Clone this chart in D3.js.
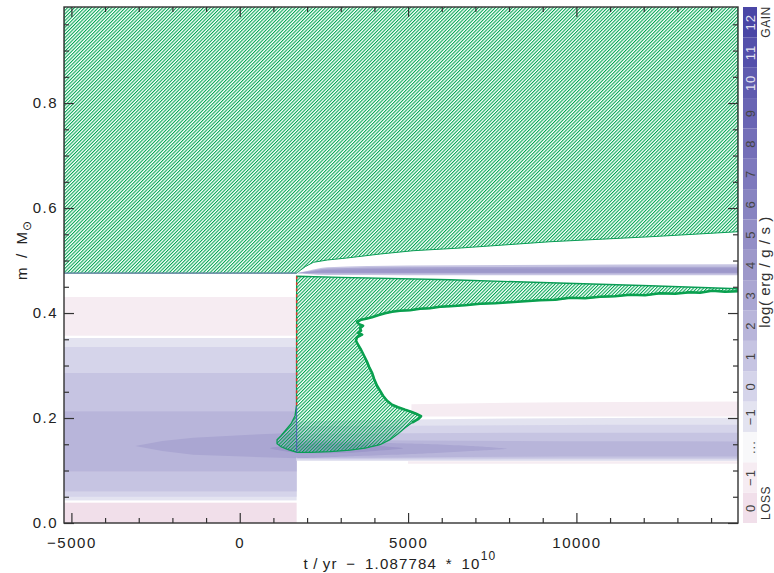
<!DOCTYPE html>
<html><head><meta charset="utf-8">
<script src="https://cdn.jsdelivr.net/npm/d3@7"></script>
<style>body{margin:0;background:#fff}svg{display:block}text{font-family:"Liberation Sans",Arial,Helvetica,sans-serif}</style>
</head><body><svg id="c" width="774" height="573"></svg>
<script>
// ---------------- data ----------------
const tRange = [-5220, 14800];
const mRange = [0, 0.983];
const tFlash = 1690;
const xMajor = [-5000, 0, 5000, 10000];
const yMajor = [0.0, 0.2, 0.4, 0.6, 0.8];

// envelope convection zone lower boundary [t, m]
const envBase = [[-5220,0.476],[1690,0.476],[1720,0.4775],[1800,0.4815],[1950,0.4885],[2186,0.4966],[2600,0.5010],[3178,0.5048],[4167,0.5124],[5148,0.5187],[6544,0.5238],[9217,0.5358],[12187,0.5453],[14800,0.5549]];

// helium-flash convection zone: upper boundary (left->right)
const flashTop = [[1690,0.4701],[3000,0.4680],[6247,0.4634],[9217,0.4577],[12187,0.4520],[14800,0.4463]];
// lower (jagged) boundary, right->left, around the tip and the flare, up the left edge
const flashBottom = [[14800,0.4415],[14415,0.4406],[14029,0.4425],[13672,0.4387],[13375,0.4396],[12930,0.4368],[12484,0.4377],[12039,0.4339],[11593,0.4349],[11148,0.4320],[10702,0.4310],[10257,0.4282],[9811,0.4291],[9365,0.4253],[8920,0.4244],[8474,0.4225],[8029,0.4206],[7583,0.4187],[7138,0.4177],[6692,0.4149],[6247,0.4130],[5950,0.4120],[5652,0.4091],[5356,0.4082],[5058,0.4053],[4761,0.4044],[4524,0.4025],[4316,0.3996],[4108,0.3958],[3930,0.3920],[3752,0.3891],[3603,0.3872],[3484,0.3834],[3544,0.3787],[3662,0.3758],[3573,0.3710],[3603,0.3663],[3514,0.3625],[3633,0.3587],[3484,0.3539],[3454,0.3472],[3514,0.3396],[3603,0.3301],[3692,0.3187],[3781,0.3072],[3841,0.2977],[3930,0.2863],[3989,0.2749],[4078,0.2615],[4167,0.2520],[4256,0.2425],[4375,0.2330],[4524,0.2253],[4702,0.2206],[4910,0.2158],[5088,0.2120],[5237,0.2082],[5385,0.2034],[5296,0.1977],[5118,0.1910],[4910,0.1815],[4702,0.1701],[4464,0.1587],[4167,0.1491],[3722,0.1425],[3276,0.1387],[2682,0.1358],[2088,0.1345],[1702,0.1345],[1435,0.1396],[1227,0.1453],[1108,0.1510],[1108,0.1587],[1227,0.1663],[1375,0.1777],[1524,0.1891],[1643,0.2044],[1687,0.2253],[1690,0.4701]];
const jaggedCount = 60; // points of flashBottom drawn with the thick line

// energy contours before the flash: level keys, lower / upper mass
const preKeys = ["L0","L1","G-1","G0","G1","G2"];
const preLo   = [0.000, 0.3568, 0.043, 0.050, 0.0602, 0.0983];
const preHi   = [0.0387, 0.4306, 0.3524, 0.3352, 0.2857, 0.2126];
// gain-3 lens before the flash (closed polygon)
const preLens3 = [[-3107,0.1467],[-2300,0.1560],[-1384,0.1625],[309,0.1682],[1690,0.1720],[1690,0.1233],[309,0.1262],[-1384,0.1300],[-2300,0.1370],[-3107,0.1467]];

// energy contours after the flash, sampled at tPost
const tPost = [1690, 2500, 5000, 8000, 11000, 14800];
const postKeys = ["G-1","G0","G1","G2"];
const postLo = [[0.118,0.118,0.118,0.118,0.118,0.118],[0.1205,0.1205,0.1205,0.121,0.121,0.121],[0.1225,0.1225,0.123,0.123,0.123,0.123],[0.1244,0.1245,0.125,0.126,0.1265,0.1269]];
const postHi = [[0.1935,0.1945,0.197,0.199,0.200,0.2006],[0.184,0.185,0.1855,0.186,0.187,0.1872],[0.170,0.170,0.171,0.172,0.172,0.172],[0.159,0.158,0.157,0.156,0.1555,0.1554]];
// thin loss bands after the flash
const lossT = [5100, 8000, 14800];
const lossHiA = [0.226, 0.229, 0.2316], lossLoA = [0.203, 0.203, 0.203];
const lossT2 = [5000, 14800];
const lossHiB = [0.1178, 0.1178], lossLoB = [0.113, 0.113];
// gain-3 lens after the flash, gain-4 core
const postLens3 = [[1690,0.1549],[3276,0.1539],[5356,0.1510],[7040,0.1463],[7940,0.1415],[7040,0.1377],[5356,0.1320],[3276,0.1272],[1690,0.1244]];
const lens4 = [[900,0.1425],[1790,0.1501],[3276,0.1505],[4850,0.1425],[3276,0.1339],[1790,0.1330],[900,0.1425]];

// hydrogen shell after the flash
const hT = [1700, 2000, 2600, 5000, 14800];
const hKeys = ["G1","G3","G4"];
const hLo = [[0.4758,0.4745,0.4725,0.4722,0.4722],[0.4758,0.4755,0.4755,0.4752,0.4752],[0.4758,0.4762,0.4768,0.4768,0.4768]];
const hHi = [[0.4758,0.4800,0.4870,0.4905,0.4930],[0.4758,0.4790,0.4850,0.4870,0.4880],[0.4758,0.4775,0.4820,0.4845,0.4855]];

// colour bar
const cbarKeys = ["L0","L1","dots","G-1","G0","G1","G2","G3","G4","G5","G6","G7","G8","G9","G10","G11","G12"];
const cbarLabels = ["0","\u22121","...","\u22121","0","1","2","3","4","5","6","7","8","9","10","11","12"];
const gainStops = [-1, 0, 1, 2, 3, 4, 12];
const gainColors = ["#e3e3f0","#d5d4ea","#c6c4e2","#b8b5da","#aaa6d2","#9d98ca","#4a46a6"];

// ---------------- drawing ----------------
const plot = {l:64, r:738, t:7, b:523};
const svg = d3.select("#c");
const x = d3.scaleLinear().domain(tRange).range([plot.l, plot.r]);
const y = d3.scaleLinear().domain(mRange).range([plot.b, plot.t]);
const gainScale = d3.scaleLinear().domain(gainStops).range(gainColors).interpolate(d3.interpolateRgb);
function color(key){
  if (key === "L0") return "#f1dfea";
  if (key === "L1") return "#f6ecf2";
  if (key === "dots") return "#f8f8fa";
  return gainScale(+key.slice(1));
}
const defs = svg.append("defs");
defs.append("clipPath").attr("id","clip").append("rect")
  .attr("x",plot.l).attr("y",plot.t).attr("width",plot.r-plot.l).attr("height",plot.b-plot.t);
const pat = defs.append("pattern").attr("id","hatch").attr("patternUnits","userSpaceOnUse")
  .attr("width",2.4).attr("height",10).attr("patternTransform","rotate(45)");
pat.append("rect").attr("x",0).attr("y",0).attr("width",1.05).attr("height",10).attr("fill","#00a651");

const g = svg.append("g").attr("clip-path","url(#clip)");
const line = d3.line().x(d=>x(d[0])).y(d=>y(d[1]));

// pre-flash contours
preKeys.forEach((k,i)=>{
  g.append("rect").attr("x",x(tRange[0])).attr("width",x(tFlash)-x(tRange[0]))
    .attr("y",y(preHi[i])).attr("height",y(preLo[i])-y(preHi[i])).attr("fill",color(k));
});
g.append("path").attr("d",line(preLens3)+"Z").attr("fill",color("G3"));

// post-flash contours
const bandArea = (ts)=>d3.area().x((d,j)=>x(ts[j])).y0(d=>y(d[0])).y1(d=>y(d[1])).curve(d3.curveMonotoneX);
g.append("path").attr("d",bandArea(lossT)(lossT.map((t,j)=>[lossLoA[j],lossHiA[j]]))).attr("fill",color("L1"));
g.append("path").attr("d",bandArea(lossT2)(lossT2.map((t,j)=>[lossLoB[j],lossHiB[j]]))).attr("fill",color("L1"));
postKeys.forEach((k,i)=>{
  g.append("path").attr("d",bandArea(tPost)(tPost.map((t,j)=>[postLo[i][j],postHi[i][j]]))).attr("fill",color(k));
});
g.append("path").attr("d",d3.line().x(d=>x(d[0])).y(d=>y(d[1])).curve(d3.curveCardinalClosed.tension(0.6))(postLens3)).attr("fill",color("G3"));
g.append("path").attr("d",d3.line().x(d=>x(d[0])).y(d=>y(d[1])).curve(d3.curveCardinalClosed.tension(0.5))(lens4.slice(0,-1))).attr("fill",color("G4"));
hKeys.forEach((k,i)=>{
  g.append("path").attr("d",bandArea(hT)(hT.map((t,j)=>[hLo[i][j],hHi[i][j]]))).attr("fill",color(k));
});

// envelope convection (hatched)
const envPoly = [[tRange[0],mRange[1]+0.01],[tRange[1],mRange[1]+0.01]].concat(envBase.slice().reverse());
g.append("path").attr("d",line(envPoly)+"Z").attr("fill","url(#hatch)")
  .attr("stroke","#0a9c55").attr("stroke-width",1);
g.append("path").attr("d",line(envBase.filter(d=>d[0]<=tFlash)))
  .attr("fill","none").attr("stroke","#7d88b6").attr("stroke-width",1.2);

// flash convection (hatched)
const flashPoly = flashTop.concat(flashBottom);
g.append("path").attr("d",line(flashPoly)+"Z").attr("fill","url(#hatch)")
  .attr("stroke","#0a9c55").attr("stroke-width",1.3);
g.append("path").attr("d",line(flashBottom.slice(0,jaggedCount)))
  .attr("fill","none").attr("stroke","#0aa04f").attr("stroke-width",2.6).attr("stroke-linejoin","round");
// boundary markers at the flash
g.append("path").attr("d",line([[tFlash,0.4701],[tFlash,0.222]]))
  .attr("stroke","#e8332a").attr("stroke-width",1.4).attr("stroke-dasharray","3,3").attr("fill","none");
g.append("path").attr("d",line([[tFlash,0.222],[tFlash,0.1345]]))
  .attr("stroke","#4a5fb0").attr("stroke-width",1).attr("fill","none");

// axes
const axisCol = "#333";
function minorTicks(dom, step){ const a=[]; for(let v=Math.ceil(dom[0]/step)*step; v<=dom[1]+1e-9; v+=step) a.push(+v.toFixed(4)); return a; }
const xMinor = minorTicks(tRange,1000).filter(v=>!xMajor.includes(v));
const yMinor = minorTicks(mRange,0.05).filter(v=>!yMajor.some(m=>Math.abs(m-v)<1e-6));

function styleAxis(sel){ sel.select(".domain").remove(); sel.selectAll("line").attr("stroke",axisCol).attr("stroke-width",1.2);
  sel.selectAll("text").attr("fill","#222").attr("font-size",15).attr("letter-spacing","1.5px"); }
svg.append("g").attr("transform",`translate(0,${plot.b})`)
  .call(d3.axisBottom(x).tickValues(xMajor).tickSize(-10).tickPadding(14).tickFormat(d3.format("d"))).call(styleAxis);
svg.append("g").attr("transform",`translate(0,${plot.b})`)
  .call(d3.axisBottom(x).tickValues(xMinor).tickSize(-5).tickFormat("")).call(styleAxis);
svg.append("g").attr("transform",`translate(0,${plot.t})`)
  .call(d3.axisTop(x).tickValues(xMajor).tickSize(-10).tickFormat("")).call(styleAxis);
svg.append("g").attr("transform",`translate(0,${plot.t})`)
  .call(d3.axisTop(x).tickValues(xMinor).tickSize(-5).tickFormat("")).call(styleAxis);
svg.append("g").attr("transform",`translate(${plot.l},0)`)
  .call(d3.axisLeft(y).tickValues(yMajor).tickSize(-10).tickPadding(6).tickFormat(d3.format(".1f"))).call(styleAxis);
svg.append("g").attr("transform",`translate(${plot.l},0)`)
  .call(d3.axisLeft(y).tickValues(yMinor).tickSize(-5).tickFormat("")).call(styleAxis);
svg.append("g").attr("transform",`translate(${plot.r},0)`)
  .call(d3.axisRight(y).tickValues(yMajor).tickSize(-10).tickFormat("")).call(styleAxis);
svg.append("g").attr("transform",`translate(${plot.r},0)`)
  .call(d3.axisRight(y).tickValues(yMinor).tickSize(-5).tickFormat("")).call(styleAxis);
svg.append("rect").attr("x",plot.l).attr("y",plot.t).attr("width",plot.r-plot.l).attr("height",plot.b-plot.t)
  .attr("fill","none").attr("stroke",axisCol).attr("stroke-width",1.4);

// axis titles
const xt = svg.append("text").attr("x",400).attr("y",569).attr("text-anchor","middle").attr("font-size",15).attr("letter-spacing","1.2px").attr("fill","#222");
xt.append("tspan").text("t\u2009/\u2009yr\u2002\u2212\u20021.087784\u2002*\u200210");
xt.append("tspan").attr("dy",-9).attr("font-size",12).text("10");
const yt = svg.append("text").attr("transform","translate(27,250) rotate(-90)").attr("text-anchor","middle").attr("font-size",15).attr("letter-spacing","1px").attr("fill","#222");
yt.append("tspan").text("m\u2002/\u2002M");
yt.append("tspan").attr("dy",4).attr("font-size",12).text("\u2299");

// colour bar
const cb = d3.scaleBand().domain(cbarKeys).range([plot.b, plot.t]);
const cbx = 743, cbw = 14;
const cbg = svg.append("g");
cbarKeys.forEach((k,i)=>{
  cbg.append("rect").attr("x",cbx).attr("y",cb(k)).attr("width",cbw).attr("height",cb.bandwidth()).attr("fill",color(k));
  const lvl = k[0]==="G" ? +k.slice(1) : -99;
  cbg.append("text").attr("transform",`translate(${cbx+cbw/2+0.5},${cb(k)+cb.bandwidth()/2}) rotate(-90)`)
    .attr("text-anchor","middle").attr("dy","0.35em").attr("font-size",13).attr("letter-spacing","1px")
    .attr("fill", lvl>=10 ? "#e4e4f0" : "#444").text(cbarLabels[i]);
});
svg.append("text").attr("transform","translate(770,22) rotate(-90)").attr("text-anchor","middle").attr("font-size",12).attr("letter-spacing","0.5px").attr("fill","#333").text("GAIN");
svg.append("text").attr("transform","translate(770,503) rotate(-90)").attr("text-anchor","middle").attr("font-size",12).attr("letter-spacing","0.5px").attr("fill","#333").text("LOSS");
svg.append("text").attr("transform","translate(770,272) rotate(-90)").attr("text-anchor","middle").attr("font-size",15).attr("letter-spacing","0.6px").attr("fill","#333").text("log( erg / g / s )");
</script></body></html>
